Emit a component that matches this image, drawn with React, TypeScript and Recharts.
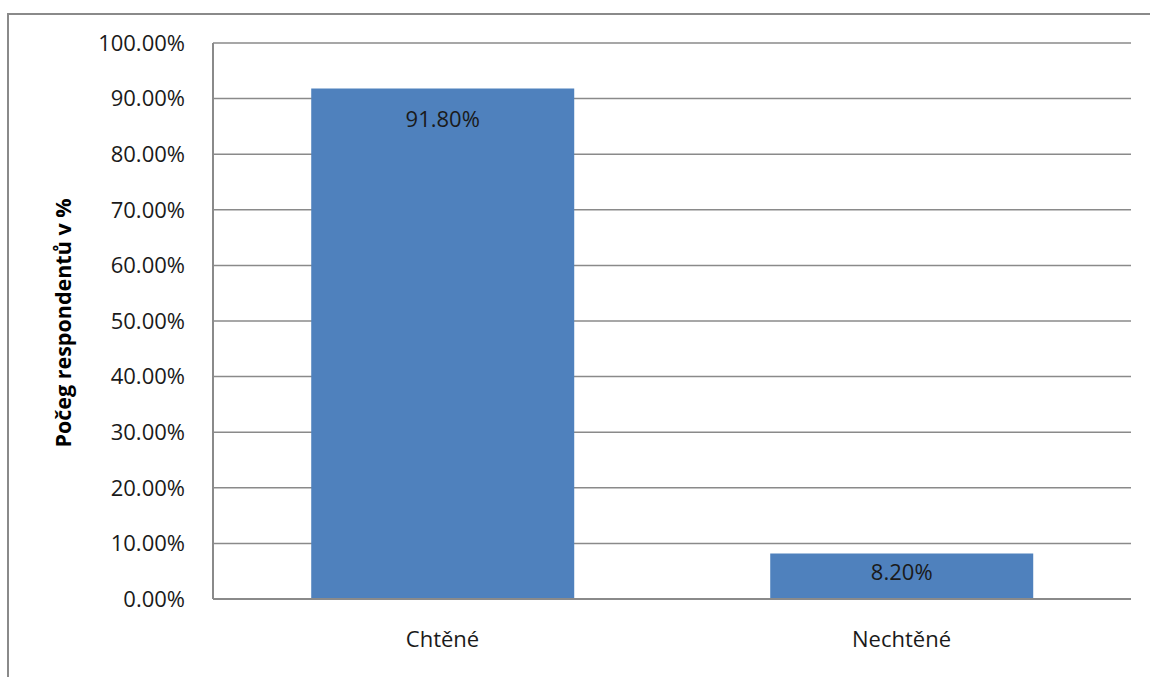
import React from "react";
import { BarChart, Bar, XAxis, YAxis, CartesianGrid, LabelList } from "recharts";

const categories = ["Chtěné", "Nechtěné"];
const shares = [91.8, 8.2];
const yTicks = [0, 10, 20, 30, 40, 50, 60, 70, 80, 90, 100];
const axisTitle = "Počeg respondentů v %";

const data = categories.map((name, i) => ({ name, value: shares[i] }));

const FONT = "'Open Sans', 'Liberation Sans', sans-serif";
const GREY = "#8a8a8a";

const fmt = (v: number) => `${v.toFixed(2)}%`;

const InsideLabel = (props: any) => {
  const { x, y, width, height, value } = props;
  const cy = y + Math.min(29, height / 2 - 5);
  return (
    <text
      x={x + width / 2}
      y={cy}
      textAnchor="middle"
      dominantBaseline="central"
      fontFamily={FONT}
      fontSize={22}
      fill="#1a1a1a"
    >
      {fmt(Number(value))}
    </text>
  );
};

const TitleLabel = (props: any) => {
  const { viewBox } = props;
  const cx = 62;
  const cy = viewBox.y + viewBox.height / 2 + 2;
  return (
    <text
      x={cx}
      y={cy}
      transform={`rotate(-90, ${cx}, ${cy})`}
      textAnchor="middle"
      dominantBaseline="central"
      fontFamily={FONT}
      fontWeight="bold"
      fontSize={21.5}
      fill="#000"
    >
      {axisTitle}
    </text>
  );
};

export default function App() {
  return (
    <div style={{ position: "absolute", left: 0, top: 0, width: 1150, height: 677, background: "#fff" }}>
      <div
        style={{
          position: "absolute",
          left: 7,
          top: 13,
          width: 1160,
          height: 700,
          borderLeft: `2px solid ${GREY}`,
          borderTop: `2px solid ${GREY}`,
          boxSizing: "border-box",
        }}
      />
      <div style={{ position: "absolute", left: 0, top: 0 }}>
        <BarChart
          width={1150}
          height={677}
          data={data}
          margin={{ top: 43, right: 19, bottom: 0, left: 0 }}
          barCategoryGap="21.4%"
        >
          <CartesianGrid vertical={false} stroke={GREY} strokeWidth={1.5} />
          <XAxis
            dataKey="name"
            height={78}
            axisLine={{ stroke: GREY, strokeWidth: 2 }}
            tickLine={false}
            tickSize={0}
            tickMargin={32}
            tick={{ fontFamily: FONT, fontSize: 22, fill: "#1a1a1a" }}
            interval={0}
          />
          <YAxis
            width={213}
            domain={[0, 100]}
            ticks={yTicks}
            interval={0}
            tickFormatter={fmt}
            axisLine={{ stroke: GREY, strokeWidth: 2 }}
            tickLine={false}
            tickSize={0}
            tickMargin={28}
            tick={{ fontFamily: FONT, fontSize: 22, fill: "#1a1a1a" }}
            label={<TitleLabel />}
          />
          <Bar dataKey="value" fill="#4F81BD" isAnimationActive={false}>
            <LabelList dataKey="value" content={<InsideLabel />} />
          </Bar>
        </BarChart>
      </div>
    </div>
  );
}
